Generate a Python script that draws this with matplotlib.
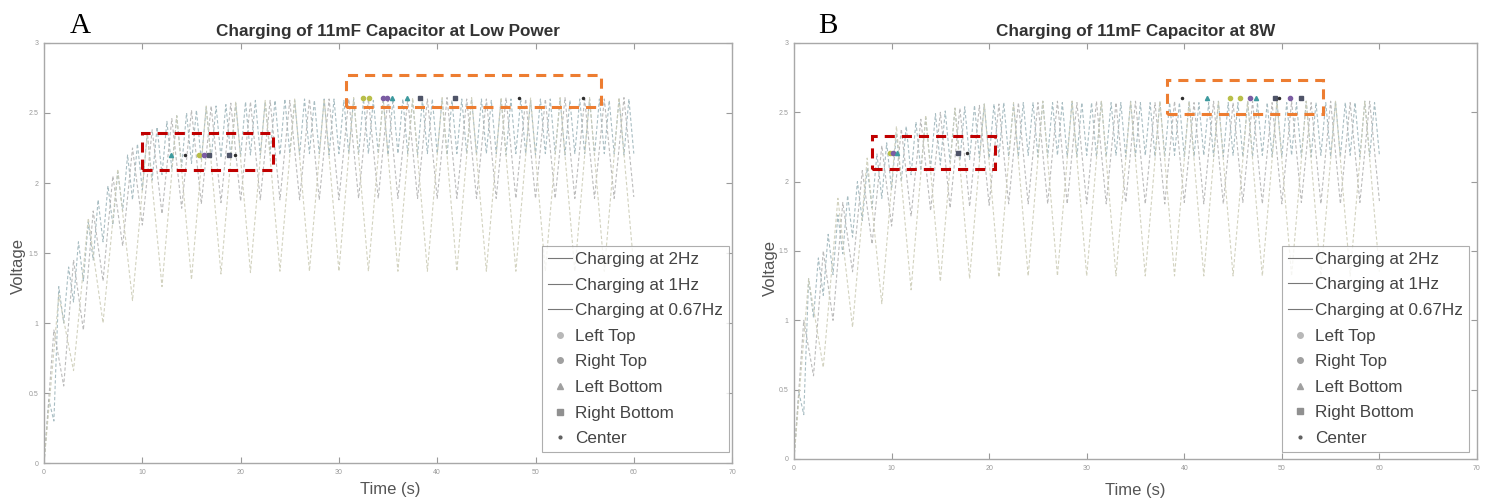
import numpy as np
import matplotlib.pyplot as plt
from matplotlib.patches import Rectangle
from matplotlib.lines import Line2D

plt.rcParams["font.family"] = ["Liberation Sans", "DejaVu Sans"]

# ---------- data ----------
series_names = ["Charging at 2Hz", "Charging at 1Hz", "Charging at 0.67Hz"]
marker_names = ["Left Top", "Right Top", "Left Bottom", "Right Bottom", "Center"]

# panel A - low power; vertices of each saw-tooth, evenly spaced over 0..60 s
a_2hz = [0.00,
         0.45, 0.30, 1.26, 1.00, 1.40, 1.15, 1.58, 1.30, 1.72, 1.45,
         1.88, 1.58, 1.98, 1.70, 2.08, 1.80, 2.20, 1.88, 2.28, 1.95,
         2.36, 2.02, 2.40, 2.06, 2.44, 2.10, 2.48, 2.12, 2.50, 2.14,
         2.52, 2.16, 2.54, 2.17, 2.55, 2.18, 2.56, 2.19, 2.57, 2.19,
         2.58, 2.20, 2.59, 2.20, 2.58, 2.21, 2.59, 2.20, 2.60, 2.21,
         2.59, 2.20, 2.60, 2.21, 2.59, 2.21, 2.60, 2.20, 2.60, 2.21,
         2.59, 2.21, 2.60, 2.20, 2.60, 2.21, 2.59, 2.21, 2.60, 2.20,
         2.60, 2.21, 2.60, 2.21, 2.59, 2.20, 2.60, 2.21, 2.60, 2.21,
         2.60, 2.20, 2.59, 2.21, 2.60, 2.21, 2.60, 2.20, 2.60, 2.21,
         2.59, 2.21, 2.60, 2.20, 2.60, 2.21, 2.60, 2.21, 2.59, 2.20,
         2.60, 2.21, 2.60, 2.21, 2.60, 2.20, 2.59, 2.21, 2.60, 2.21,
         2.60, 2.20, 2.60, 2.21, 2.59, 2.21, 2.60, 2.20, 2.60, 2.21]
a_1hz = [0.00,
         0.95, 0.55, 1.45, 0.95, 1.80, 1.30, 2.05, 1.55, 2.25, 1.70,
         2.38, 1.78, 2.46, 1.82, 2.52, 1.85, 2.55, 1.86, 2.57, 1.87,
         2.58, 1.88, 2.59, 1.88, 2.59, 1.88, 2.60, 1.88, 2.60, 1.88,
         2.60, 1.89, 2.60, 1.89, 2.61, 1.89, 2.60, 1.89, 2.60, 1.89,
         2.61, 1.89, 2.60, 1.89, 2.60, 1.89, 2.61, 1.89, 2.60, 1.89,
         2.60, 1.89, 2.61, 1.89, 2.60, 1.89, 2.60, 1.89, 2.61, 1.90]
a_067hz = [0.00,
           1.20, 0.66, 1.75, 1.00, 2.10, 1.16, 2.35, 1.26, 2.48, 1.31,
           2.55, 1.35, 2.58, 1.36, 2.59, 1.37, 2.60, 1.37, 2.60, 1.37,
           2.61, 1.37, 2.61, 1.37, 2.61, 1.37, 2.61, 1.37, 2.61, 1.37,
           2.61, 1.37, 2.61, 1.37, 2.61, 1.37, 2.61, 1.37, 2.61, 1.40]

# panel B - 8 W
b_2hz = [0.00,
         0.48, 0.32, 1.30, 1.02, 1.45, 1.18, 1.62, 1.33, 1.76, 1.48,
         1.90, 1.60, 2.00, 1.72, 2.10, 1.81, 2.20, 1.88, 2.28, 1.94,
         2.35, 2.00, 2.40, 2.05, 2.43, 2.08, 2.46, 2.10, 2.49, 2.12,
         2.51, 2.14, 2.53, 2.15, 2.54, 2.16, 2.55, 2.17, 2.56, 2.17,
         2.56, 2.18, 2.57, 2.18, 2.56, 2.18, 2.57, 2.19, 2.57, 2.18,
         2.58, 2.18, 2.57, 2.19, 2.57, 2.18, 2.58, 2.18, 2.57, 2.19,
         2.57, 2.18, 2.58, 2.18, 2.57, 2.19, 2.57, 2.18, 2.58, 2.18,
         2.57, 2.19, 2.57, 2.18, 2.58, 2.18, 2.57, 2.19, 2.57, 2.18,
         2.58, 2.18, 2.57, 2.19, 2.57, 2.18, 2.58, 2.18, 2.57, 2.19,
         2.57, 2.18, 2.58, 2.18, 2.57, 2.19, 2.57, 2.18, 2.58, 2.18,
         2.57, 2.19, 2.57, 2.18, 2.58, 2.18, 2.57, 2.19, 2.57, 2.18,
         2.58, 2.18, 2.57, 2.19, 2.57, 2.18, 2.58, 2.18, 2.57, 2.19]
b_1hz = [0.00,
         1.00, 0.60, 1.50, 1.00, 1.85, 1.35, 2.08, 1.55, 2.26, 1.68,
         2.38, 1.75, 2.45, 1.79, 2.50, 1.81, 2.53, 1.82, 2.55, 1.83,
         2.56, 1.84, 2.57, 1.84, 2.57, 1.84, 2.58, 1.84, 2.57, 1.84,
         2.58, 1.84, 2.57, 1.85, 2.58, 1.84, 2.57, 1.84, 2.58, 1.85,
         2.57, 1.84, 2.58, 1.84, 2.57, 1.85, 2.58, 1.84, 2.57, 1.84,
         2.58, 1.85, 2.57, 1.84, 2.58, 1.84, 2.57, 1.85, 2.58, 1.86]
b_067hz = [0.00,
           1.30, 0.66, 1.88, 0.95, 2.17, 1.12, 2.40, 1.22, 2.48, 1.28,
           2.53, 1.30, 2.56, 1.31, 2.57, 1.32, 2.58, 1.32, 2.58, 1.32,
           2.58, 1.32, 2.58, 1.32, 2.58, 1.32, 2.58, 1.32, 2.58, 1.32,
           2.58, 1.32, 2.58, 1.32, 2.58, 1.32, 2.58, 1.32, 2.58, 1.35]

# position markers: time (s), voltage (V)
a_marker_t = [[15.8, 32.5, 33.1], [16.3, 34.5, 34.9], [12.9, 35.4, 36.9],
              [16.8, 18.8, 38.2, 41.8], [14.3, 19.4, 48.3, 54.8]]
a_marker_v = [[2.20, 2.61, 2.61], [2.20, 2.61, 2.61], [2.20, 2.61, 2.61],
              [2.20, 2.20, 2.61, 2.61], [2.20, 2.20, 2.61, 2.61]]
b_marker_t = [[9.8, 44.7, 45.7], [10.1, 50.8, 46.7], [10.6, 42.3, 47.3],
              [16.8, 49.3, 52.0], [17.7, 39.8, 49.7]]
b_marker_v = [[2.21, 2.60, 2.60], [2.21, 2.60, 2.60], [2.21, 2.60, 2.60],
              [2.21, 2.60, 2.60], [2.21, 2.60, 2.60]]

# highlight boxes (t0, t1, v0, v1)
a_red_box = (10.0, 23.3, 2.09, 2.36)
a_orange_box = (30.7, 56.7, 2.54, 2.77)
b_red_box = (8.0, 20.6, 2.09, 2.33)
b_orange_box = (38.2, 54.2, 2.49, 2.73)

# ---------- style ----------
line_colors = ["#9fb6bc", "#b4b4b4", "#cdcdb8"]
marker_styles = ["o", "o", "^", "s", "."]
marker_colors = ["#b9bf4a", "#7b5ca3", "#3d9a9e", "#4f5468", "#2e2e2e"]
legend_marker_colors = ["#b8b8b8", "#a0a0a0", "#a0a0a0", "#909090", "#606060"]


def draw_panel(ax, curves, mk_t, mk_v, red_box, orange_box, title, letter,
               letter_x, ylab_pos, xlab_pos, leg_anchor):
    for vals, col in zip(curves, line_colors):
        t = np.linspace(0, 60, len(vals))
        ax.plot(t, vals, color=col, lw=0.8, ls=(0, (3, 2)), alpha=0.9)
    for tt, vv, m, c in zip(mk_t, mk_v, marker_styles, marker_colors):
        ax.plot(tt, vv, ls="none", marker=m, ms=3.0, color=c, mec=c)

    for (t0, t1, v0, v1), col in [(red_box, "#c00000"), (orange_box, "#ed7d31")]:
        ax.add_patch(Rectangle((t0, v0), t1 - t0, v1 - v0, fill=False,
                               ec=col, lw=2.2, ls=(0, (3.3, 2.3)), zorder=5))

    ax.set_xlim(0, 70)
    ax.set_ylim(0, 3)
    ax.set_xticks(range(0, 71, 10))
    ax.set_yticks([0, 0.5, 1, 1.5, 2, 2.5, 3])
    ax.set_yticklabels(["0", "0.5", "1", "1.5", "2", "2.5", "3"])
    ax.tick_params(direction="in", top=True, right=True, labelsize=5,
                   labelcolor="#9a9a9a", color="#9a9a9a", length=4, pad=4)
    for s in ax.spines.values():
        s.set_color("#a8a8a8")
        s.set_linewidth(1.0)

    ax.set_title(title, fontsize=12.3, fontweight="bold", color="#333333", pad=5)
    ax.set_xlabel("Time (s)", fontsize=12, color="#555555")
    ax.set_ylabel("Voltage", fontsize=12, color="#555555")
    ax.xaxis.set_label_coords(*xlab_pos)
    ax.yaxis.set_label_coords(*ylab_pos)

    handles = [Line2D([], [], color="#777777", lw=0.8) for _ in series_names]
    handles += [Line2D([], [], ls="none", marker=m, ms=4, color=c)
                for m, c in zip(marker_styles, legend_marker_colors)]
    leg = ax.legend(handles, series_names + marker_names, loc="lower right",
                    bbox_to_anchor=leg_anchor, fontsize=12.3, frameon=True,
                    fancybox=False, edgecolor="#9a9a9a", handlelength=1.4,
                    handletextpad=0.2, labelspacing=0.62, borderpad=0.35,
                    borderaxespad=0.0)
    leg.get_frame().set_linewidth(0.8)
    for txt in leg.get_texts():
        txt.set_color("#444444")

    ax.text(letter_x, 1.024, letter, transform=ax.transAxes, fontsize=21,
            family=["Liberation Serif", "DejaVu Serif"], ha="left", va="baseline")


fig = plt.figure(figsize=(14.88, 5.04), dpi=100)
ax_a = fig.add_axes([0.0296, 0.0813, 0.4624, 0.8334])
ax_b = fig.add_axes([0.5336, 0.0893, 0.4590, 0.8254])

draw_panel(ax_a, [a_2hz, a_1hz, a_067hz], a_marker_t, a_marker_v,
           a_red_box, a_orange_box, "Charging of 11mF Capacitor at Low Power", "A",
           0.038, (-0.026, 0.47), (0.503, -0.045), (0.996, 0.026))
draw_panel(ax_b, [b_2hz, b_1hz, b_067hz], b_marker_t, b_marker_v,
           b_red_box, b_orange_box, "Charging of 11mF Capacitor at 8W", "B",
           0.035, (-0.023, 0.46), (0.5, -0.058), (0.988, 0.017))

fig.savefig("out.png", dpi=100)
